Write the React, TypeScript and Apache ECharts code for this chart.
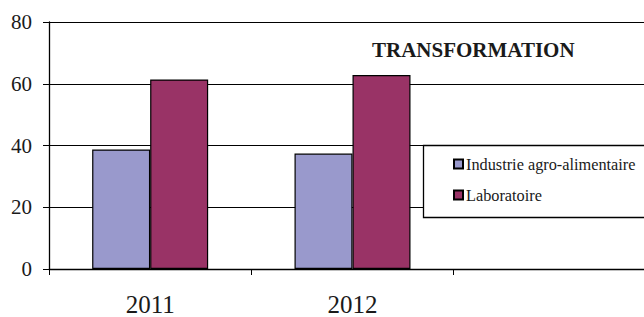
import React, { useEffect, useRef } from "react";
import * as echarts from "echarts";

const categories = ["2011", "2012", ""];
const industrie = [38.7, 37.4, null];
const laboratoire = [61.4, 62.8, null];
const yTicks = [0, 20, 40, 60, 80];
const seriesNames = ["Industrie agro-alimentaire", "Laboratoire"];
const chartTitle = "TRANSFORMATION";

const FONT = "Liberation Serif, Times New Roman, serif";

export default function App() {
  const ref = useRef<HTMLDivElement>(null);
  useEffect(() => {
    if (!ref.current) return;
    const chart = echarts.init(ref.current, null, { renderer: "svg" });
    chart.setOption({
      animation: false,
      textStyle: { fontFamily: FONT },
      title: {
        text: chartTitle,
        left: 372,
        top: 39,
        padding: 0,
        textStyle: { fontFamily: FONT, fontWeight: "bold", fontSize: 21, color: "#1a1a1a" },
      },
      grid: { left: 49, right: 6, top: 22, bottom: 45, containLabel: false },
      xAxis: {
        type: "category",
        data: categories,
        axisLine: { lineStyle: { color: "#000", width: 1.3 } },
        axisTick: { show: true, length: 6, lineStyle: { color: "#000" } },
        axisLabel: { fontFamily: FONT, fontSize: 25, color: "#1a1a1a", margin: 23 },
        splitLine: { show: false },
      },
      yAxis: {
        type: "value",
        min: yTicks[0],
        max: yTicks[yTicks.length - 1],
        interval: 20,
        axisLine: { show: true, lineStyle: { color: "#000", width: 1.3 } },
        axisTick: { show: true, length: 6, lineStyle: { color: "#000" } },
        axisLabel: { fontFamily: FONT, fontSize: 21, color: "#1a1a1a", margin: 17 },
        splitLine: { show: true, lineStyle: { color: "#000", width: 1 } },
      },
      legend: {
        orient: "vertical",
        left: 453,
        top: 156,
        itemWidth: 9,
        itemHeight: 9,
        itemGap: 15,
        padding: 0,
        icon: "rect",
        textStyle: { fontFamily: FONT, fontSize: 16.3, color: "#1a1a1a", padding: [0, 0, 0, -2] },
        data: seriesNames,
      },
      graphic: [
        {
          type: "rect",
          z: 3,
          shape: { x: 423.5, y: 145.5, width: 240, height: 72 },
          style: { fill: "#fff", stroke: "#000", lineWidth: 1.3 },
        },
      ],
      series: [
        {
          name: seriesNames[0],
          type: "bar",
          data: industrie,
          barWidth: 58,
          barGap: "0%",
          itemStyle: { color: "#9999CC", borderColor: "#000", borderWidth: 1.2 },
        },
        {
          name: seriesNames[1],
          type: "bar",
          data: laboratoire,
          barWidth: 58,
          barGap: "0%",
          itemStyle: { color: "#993366", borderColor: "#000", borderWidth: 1.2 },
        },
      ],
    });
    return () => chart.dispose();
  }, []);
  return (
    <div style={{ position: "absolute", left: 0, top: 0, width: 644, height: 317, overflow: "hidden" }}>
      <div ref={ref} style={{ width: 662, height: 317 }} />
    </div>
  );
}
